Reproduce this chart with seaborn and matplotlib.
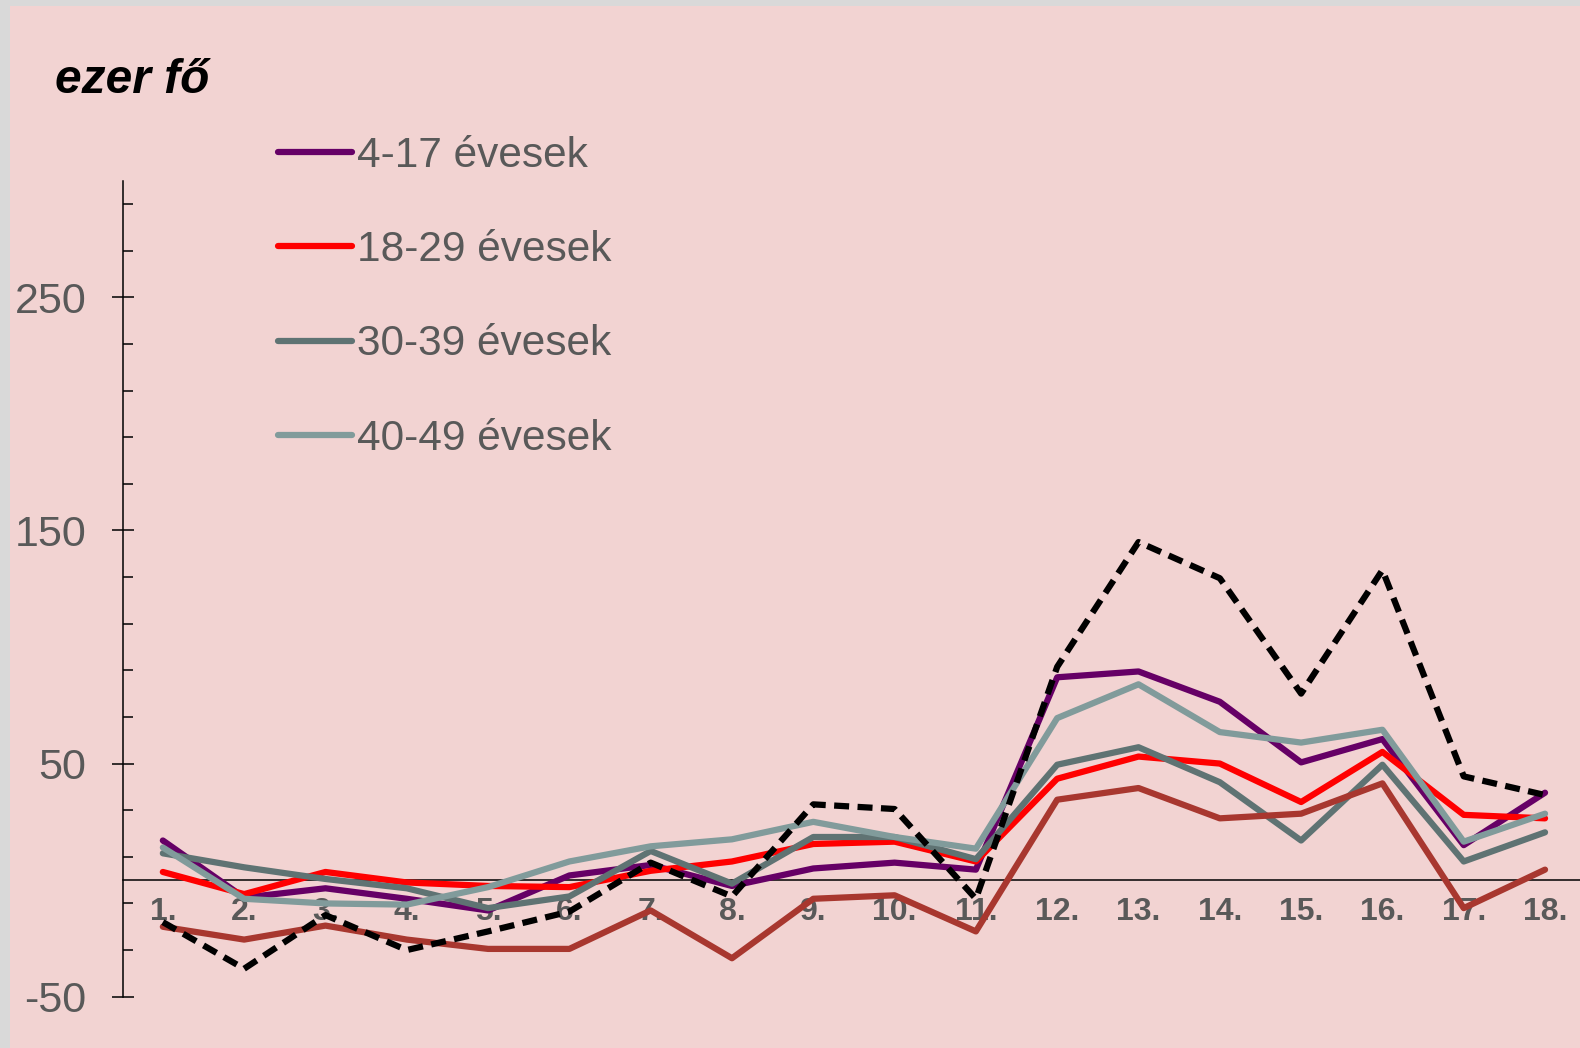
import numpy as np
import pandas as pd
import seaborn as sns
import matplotlib.pyplot as plt
from matplotlib.patches import Rectangle

## numbers (thousand people)
periods = list(range(1, 19))
period_labels = [f"{p}." for p in periods]

age_4_17 = [17, -7.5, -3.5, -8, -13, 2, 6.5, -2.5, 5, 7.5, 4.5, 87, 89.5, 76.5, 50.5, 60.5, 15, 37.5]
age_18_29 = [3.5, -6, 3.5, -1, -2.5, -3, 4, 8, 15.5, 16.5, 8, 43.5, 53, 50, 33.5, 55, 28, 26.5]
age_30_39 = [11.5, 5.5, 0.5, -3.5, -12, -7, 12.5, -1.5, 18.5, 18.5, 9, 49.5, 57, 42, 17, 49.5, 8, 20.5]
age_40_49 = [14, -8, -10, -10.5, -3, 8, 14.5, 17.5, 25, 18.5, 13.5, 69.5, 84, 63.5, 59, 64.5, 16.5, 28.5]
age_50_plus = [-20, -25.5, -19.5, -25.5, -29.5, -29.5, -13, -33.5, -8, -6.5, -22, 34.5, 39.5, 26.5, 28.5, 41.5, -12, 4.5]
total = [-18, -38, -15, -30, -22, -13.5, 7.5, -7, 32.5, 30.5, -8, 91.5, 145, 129.5, 80, 133, 44.5, 36.5]

series_names = ["4-17 évesek", "18-29 évesek", "30-39 évesek", "40-49 évesek", "50+ évesek", "összesen"]
series_values = [age_4_17, age_18_29, age_30_39, age_40_49, age_50_plus, total]
series_colors = ["#660066", "#ff0000", "#5f7373", "#819b9b", "#a8372f", "#000000"]

major_ticks = [-50, 50, 150, 250]
minor_ticks = [-30, -10, 10, 30, 70, 90, 110, 130, 170, 190, 210, 230, 270, 290]

pink = "#f2d3d2"
grey_text = "#595959"

sns.set_style("ticks")
plt.rcParams["font.family"] = ["Liberation Sans", "DejaVu Sans"]

W, H = 1580, 1048
fig = plt.figure(figsize=(W / 100, H / 100), dpi=100, facecolor="#d9d9d9")
fig.add_artist(Rectangle((10 / W, 0), 1, 1 - 6 / H, transform=fig.transFigure,
                         facecolor=pink, edgecolor="none", zorder=-10))

ax = fig.add_axes([123 / W, 1 - 996.7 / H, 1 - 123 / W, (996.7 - 180.7) / H])
ax.patch.set_visible(False)

df = pd.DataFrame({"period": periods})
for name, vals in zip(series_names, series_values):
    df[name] = vals

for name, col in zip(series_names, series_colors):
    sns.lineplot(data=df, x="period", y=name, color=col, ax=ax, legend=False)
    line = ax.lines[-1]
    line.set_linewidth(4.5)
    line.set_solid_capstyle("round")
    if name == "összesen":
        line.set_dashes((2.4, 1.35))

ax.set_xlim(0.51, 18.43)
ax.set_ylim(-50, 300)

for s in ["top", "right"]:
    ax.spines[s].set_visible(False)
ax.spines["left"].set_linewidth(1.1)
ax.spines["left"].set_color("black")
ax.spines["bottom"].set_position(("data", 0))
ax.spines["bottom"].set_linewidth(1.1)
ax.spines["bottom"].set_color("black")
ax.spines["bottom"].set_zorder(1)

ax.set_xticks(periods)
ax.set_xticklabels(period_labels, fontweight="bold", color=grey_text, fontsize=23)
ax.tick_params(axis="x", length=0, pad=12)

ax.set_yticks(major_ticks)
ax.set_yticks(minor_ticks, minor=True)
ax.set_yticklabels([str(t) for t in major_ticks], color=grey_text, fontsize=31)
ax.tick_params(axis="y", which="major", direction="inout", length=16.5, width=1.1,
               pad=18, color="black")
ax.tick_params(axis="y", which="minor", direction="in", length=7.5, width=1.1,
               color="black")

ax.set_xlabel("")
ax.set_ylabel("")

fig.text(55 / W, 1 - 93 / H, "ezer fő", fontsize=34.5, fontweight="bold",
         style="italic", ha="left", va="baseline", color="black")

## only the four age groups have a legend entry in the original
ax.legend(handles=ax.lines[:4], labels=series_names[:4], loc="upper left",
          bbox_to_anchor=(278 / W, 1 - 136 / H), bbox_transform=fig.transFigure,
          frameon=False, fontsize=30.5, labelcolor=grey_text, handlelength=1.75,
          handletextpad=0.12, labelspacing=1.28, borderpad=0, borderaxespad=0)

fig.savefig("out.png", dpi=100, facecolor=fig.get_facecolor())
